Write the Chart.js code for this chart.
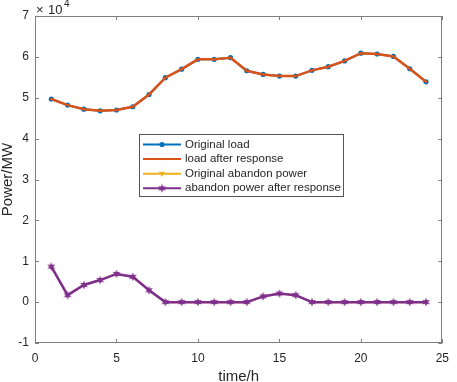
<!DOCTYPE html>
<html>
<head>
<meta charset="utf-8">
<script src="https://cdn.jsdelivr.net/npm/chart.js@4.4.1/dist/chart.umd.min.js"></script>
<style>html,body{margin:0;padding:0;background:#fff}</style>
</head>
<body>
<canvas id="c" width="457" height="382"></canvas>
<script>
/* data (power in MW) */
const hours = [1, 2, 3, 4, 5, 6, 7, 8, 9, 10, 11, 12, 13, 14, 15, 16, 17, 18, 19, 20, 21, 22, 23, 24];
const originalLoad = [49700, 48200, 47200, 46800, 47000, 47800, 50800, 54900, 57000, 59400, 59400, 59800,
  56600, 55700, 55300, 55300, 56700, 57600, 59000, 60900, 60700, 60100, 57100, 53900];
const loadAfterResponse = [49700, 48200, 47200, 46800, 47000, 47800, 50800, 54900, 57000, 59400, 59400, 59800,
  56600, 55700, 55300, 55300, 56700, 57600, 59000, 60900, 60700, 60100, 57100, 53900];
const originalAbandon = [8700, 1700, 4200, 5400, 6900, 6200, 2900, 0, 0, 0, 0, 0,
  0, 1400, 2100, 1700, 0, 0, 0, 0, 0, 0, 0, 0];
const abandonAfterResponse = [8700, 1700, 4200, 5400, 6900, 6200, 2900, 0, 0, 0, 0, 0,
  0, 1400, 2100, 1700, 0, 0, 0, 0, 0, 0, 0, 0];
const xTicks = [0, 5, 10, 15, 20, 25];
const yTicks = [-10000, 0, 10000, 20000, 30000, 40000, 50000, 60000, 70000];
const yTickLabels = ['-1', '0', '1', '2', '3', '4', '5', '6', '7'];

const FONT = '"Liberation Sans", Arial, Helvetica, sans-serif';
const TXT = '#262626';
const AX = '#7f7f7f';
const C_BLUE = '#0072BD', C_ORANGE = '#D95319', C_YELLOW = '#EDB120', C_PURPLE = '#7E2F8E';

// small filled six point star, like matlab's hexagram marker
function starImg(color) {
  const c = document.createElement('canvas');
  c.width = 10; c.height = 10;
  const g = c.getContext('2d');
  g.fillStyle = color;
  g.beginPath();
  for (let k = 0; k < 12; k++) {
    const r = k % 2 ? 2 : 4.6;
    const a = -Math.PI / 2 + k * Math.PI / 6;
    g.lineTo(5 + r * Math.cos(a), 5 + r * Math.sin(a));
  }
  g.closePath();
  g.fill();
  return c;
}
const star = starImg(C_PURPLE);

const pts = ys => hours.map((h, i) => ({ x: h, y: ys[i] }));

const series = [
  { label: 'Original load', data: pts(originalLoad), borderColor: C_BLUE, backgroundColor: C_BLUE,
    borderWidth: 2, pointStyle: 'circle', pointRadius: 2.6, order: 1 },
  { label: 'load after response', data: pts(loadAfterResponse), borderColor: C_ORANGE, backgroundColor: C_ORANGE,
    borderWidth: 2.5, pointStyle: 'circle', pointRadius: 1.2, order: 0 },
  { label: 'Original abandon power', data: pts(originalAbandon), borderColor: C_YELLOW, backgroundColor: C_YELLOW,
    borderWidth: 2, pointStyle: 'triangle', rotation: 180, pointRadius: 3.2, order: 1 },
  { label: 'abandon power after response', data: pts(abandonAfterResponse), borderColor: C_PURPLE, backgroundColor: C_PURPLE,
    borderWidth: 2.5, pointStyle: star, pointRadius: 4, order: 0 }
];

function marker(ctx, ds, x, y) {
  ctx.save();
  ctx.fillStyle = ds.backgroundColor;
  const r = ds.pointRadius;
  if (ds.pointStyle === 'circle') {
    ctx.beginPath();
    ctx.arc(x, y, r, 0, Math.PI * 2);
    ctx.fill();
  } else if (ds.pointStyle === 'triangle') {
    ctx.beginPath();
    ctx.moveTo(x - r, y - r * 0.6);
    ctx.lineTo(x + r, y - r * 0.6);
    ctx.lineTo(x, y + r);
    ctx.closePath();
    ctx.fill();
  } else {
    ctx.drawImage(ds.pointStyle, x - 5, y - 5);
  }
  ctx.restore();
}

/* matlab style box, inner ticks, y labels + title, exponent label and legend */
const frame = {
  id: 'frame',
  afterDraw(chart) {
    const { ctx, chartArea: a, scales: { x, y } } = chart;
    ctx.save();
    ctx.strokeStyle = AX;
    ctx.lineWidth = 1;
    ctx.strokeRect(Math.round(a.left) + 0.5, Math.round(a.top) + 0.5,
      Math.round(a.right - a.left) - 1, Math.round(a.bottom - a.top) - 1);
    ctx.beginPath();
    xTicks.forEach(v => {
      const px = Math.round(x.getPixelForValue(v)) + 0.5;
      ctx.moveTo(px, a.bottom); ctx.lineTo(px, a.bottom - 4);
      ctx.moveTo(px, a.top); ctx.lineTo(px, a.top + 4);
    });
    yTicks.forEach(v => {
      const py = Math.round(y.getPixelForValue(v)) + 0.5;
      ctx.moveTo(a.left, py); ctx.lineTo(a.left + 4, py);
      ctx.moveTo(a.right, py); ctx.lineTo(a.right - 4, py);
    });
    ctx.stroke();

    ctx.fillStyle = TXT;
    ctx.textBaseline = 'middle';
    ctx.textAlign = 'right';
    ctx.font = '12px ' + FONT;
    yTicks.forEach((v, i) => ctx.fillText(yTickLabels[i], a.left - 6, y.getPixelForValue(v)));

    // y title
    ctx.save();
    ctx.translate(8, (a.top + a.bottom) / 2);
    ctx.rotate(-Math.PI / 2);
    ctx.textAlign = 'center';
    ctx.font = '15px ' + FONT;
    ctx.fillText('Power/MW', 0, 0);
    ctx.restore();

    // x10^4
    ctx.textAlign = 'left';
    ctx.font = '13px ' + FONT;
    ctx.fillText('\u00d7', 36, 10);
    ctx.fillText('10', 48, 10);
    ctx.font = '10px ' + FONT;
    ctx.fillText('4', 64, 4);

    // legend
    const L = 139, T = 134, W = 204, H = 62;
    ctx.fillStyle = '#fff';
    ctx.fillRect(L, T, W, H);
    ctx.strokeStyle = '#555';
    ctx.strokeRect(L + 0.5, T + 0.5, W, H);
    ctx.font = '11.5px ' + FONT;
    series.forEach((ds, i) => {
      const ry = T + 10.5 + i * 14.6;
      ctx.strokeStyle = ds.borderColor;
      ctx.lineWidth = 2;
      ctx.beginPath();
      ctx.moveTo(143, ry); ctx.lineTo(181, ry);
      ctx.stroke();
      marker(ctx, ds, 162, ry);
      ctx.fillStyle = TXT;
      ctx.fillText(ds.label, 185, ry);
    });
    ctx.restore();
  }
};

new Chart(document.getElementById('c'), {
  type: 'line',
  data: { datasets: series.map(s => ({ ...s, tension: 0, fill: false, pointBorderColor: s.borderColor,
    pointBackgroundColor: s.backgroundColor, pointBorderWidth: 0, pointRotation: s.rotation || 0 })) },
  options: {
    responsive: false,
    devicePixelRatio: 1,
    animation: false,
    layout: { padding: { top: 16, right: 6, left: 0, bottom: 0 } },
    plugins: { legend: { display: false }, tooltip: { enabled: false } },
    scales: {
      x: {
        type: 'linear', min: 0, max: 25,
        afterFit: s => { s.height = 39; },
        afterBuildTicks: s => { s.ticks = xTicks.map(v => ({ value: v })); },
        grid: { display: false, drawTicks: false },
        border: { display: false },
        ticks: { color: TXT, font: { family: FONT, size: 12 }, padding: 8, maxRotation: 0, autoSkip: false },
        title: { display: true, text: 'time/h', color: TXT, font: { family: FONT, size: 15, lineHeight: 1 },
          padding: { top: 0, bottom: -2 } }
      },
      y: {
        type: 'linear', min: -10000, max: 70000,
        afterFit: s => { s.width = 35; },
        afterBuildTicks: s => { s.ticks = yTicks.map(v => ({ value: v })); },
        grid: { display: false, drawTicks: false },
        border: { display: false },
        ticks: { display: false },
        title: { display: false }
      }
    }
  },
  plugins: [frame]
});
</script>
</body>
</html>
